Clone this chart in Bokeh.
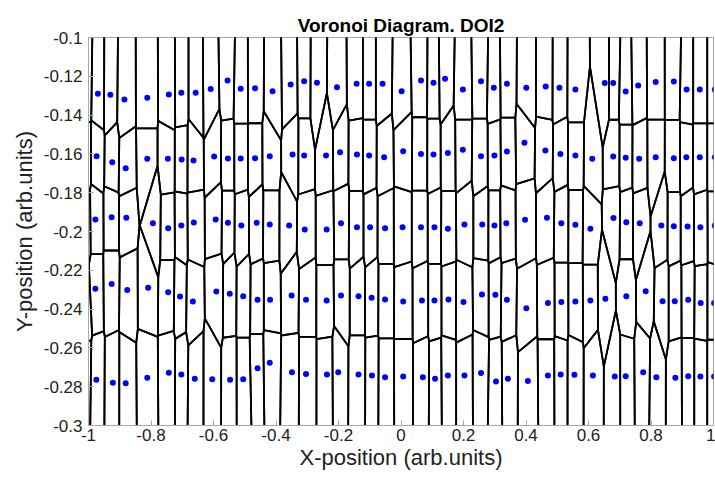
import numpy as np
from bokeh.plotting import figure
from bokeh.models import FixedTicker, CustomJSTickFormatter, Range1d
from bokeh.embed import file_html
from bokeh.resources import INLINE

# ---- data ----
row1_x = [-1.010, -0.970, -0.930, -0.885, -0.812, -0.743, -0.703, -0.657, -0.609, -0.555, -0.513,
          -0.467, -0.411, -0.353, -0.310, -0.269, -0.205, -0.142, -0.102, -0.059, 0.002,
          0.064, 0.104, 0.141, 0.198, 0.256, 0.297, 0.339, 0.401, 0.463, 0.507,
          0.558, 0.652, 0.679, 0.719, 0.759, 0.815, 0.873, 0.914, 0.956, 1.004]
row1_y = [-0.1259, -0.1290, -0.1295, -0.1320, -0.1311, -0.1294, -0.1285, -0.1285, -0.1266, -0.1222, -0.1264,
          -0.1262, -0.1277, -0.1242, -0.1225, -0.1233, -0.1256, -0.1239, -0.1239, -0.1239, -0.1277,
          -0.1222, -0.1233, -0.1213, -0.1268, -0.1225, -0.1259, -0.1239, -0.1259, -0.1253, -0.1259,
          -0.1268, -0.1235, -0.1235, -0.1278, -0.1247, -0.1230, -0.1227, -0.1268, -0.1268, -0.1268]

row2_x = [-1.010, -0.974, -0.924, -0.881, -0.812, -0.746, -0.702, -0.664, -0.598, -0.554, -0.513,
          -0.467, -0.420, -0.347, -0.310, -0.240, -0.195, -0.141, -0.102, -0.054, 0.007,
          0.064, 0.104, 0.150, 0.198, 0.256, 0.299, 0.339, 0.395, 0.462, 0.510,
          0.558, 0.612, 0.679, 0.719, 0.762, 0.815, 0.873, 0.913, 0.956, 1.004]
row2_y = [-0.1612, -0.1612, -0.1643, -0.1674, -0.1625, -0.1625, -0.1629, -0.1634, -0.1613, -0.1624, -0.1624,
          -0.1622, -0.1612, -0.1603, -0.1608, -0.1608, -0.1591, -0.1603, -0.1608, -0.1617, -0.1586,
          -0.1600, -0.1603, -0.1596, -0.1579, -0.1612, -0.1608, -0.1588, -0.1543, -0.1582, -0.1600,
          -0.1608, -0.1625, -0.1613, -0.1620, -0.1625, -0.1617, -0.1622, -0.1617, -0.1617, -0.1617]

row3_x = [-1.010, -0.978, -0.926, -0.879, -0.794, -0.745, -0.703, -0.663, -0.593, -0.554, -0.511,
          -0.462, -0.420, -0.358, -0.308, -0.238, -0.192, -0.141, -0.099, -0.051, 0.005,
          0.064, 0.107, 0.150, 0.203, 0.260, 0.299, 0.337, 0.397, 0.467, 0.513,
          0.558, 0.606, 0.680, 0.721, 0.764, 0.833, 0.873, 0.917, 0.958, 1.004]
row3_y = [-0.1957, -0.1938, -0.1926, -0.1929, -0.1957, -0.1983, -0.1969, -0.1954, -0.1938, -0.1955, -0.1969,
          -0.1955, -0.1964, -0.1969, -0.1990, -0.1990, -0.1957, -0.1978, -0.1978, -0.1983, -0.1978,
          -0.1978, -0.1978, -0.1986, -0.1964, -0.1964, -0.1969, -0.1957, -0.1940, -0.1929, -0.1957,
          -0.1965, -0.1986, -0.1931, -0.1952, -0.1957, -0.1969, -0.1973, -0.1974, -0.1978, -0.1969]

row4_x = [-1.010, -0.978, -0.926, -0.876, -0.809, -0.745, -0.707, -0.666, -0.591, -0.548, -0.505,
          -0.459, -0.419, -0.350, -0.304, -0.238, -0.192, -0.136, -0.094, -0.051, 0.007,
          0.067, 0.107, 0.152, 0.200, 0.259, 0.302, 0.339, 0.401, 0.470, 0.513,
          0.558, 0.606, 0.654, 0.721, 0.783, 0.837, 0.876, 0.919, 0.959, 1.002]
row4_y = [-0.2387, -0.2295, -0.2270, -0.2301, -0.2290, -0.2313, -0.2335, -0.2361, -0.2309, -0.2321, -0.2334,
          -0.2352, -0.2352, -0.2330, -0.2352, -0.2356, -0.2330, -0.2334, -0.2342, -0.2351, -0.2361,
          -0.2356, -0.2356, -0.2351, -0.2364, -0.2325, -0.2326, -0.2352, -0.2395, -0.2369, -0.2364,
          -0.2361, -0.2356, -0.2347, -0.2334, -0.2308, -0.2359, -0.2359, -0.2352, -0.2369, -0.2369]

row5_x = [-1.010, -0.975, -0.922, -0.881, -0.812, -0.743, -0.703, -0.660, -0.604, -0.547, -0.505,
          -0.459, -0.420, -0.349, -0.304, -0.237, -0.201, -0.136, -0.093, -0.051, 0.007,
          0.070, 0.109, 0.150, 0.203, 0.256, 0.304, 0.342, 0.406, 0.470, 0.511,
          0.555, 0.614, 0.684, 0.719, 0.775, 0.817, 0.878, 0.919, 0.958, 1.002]
row5_y = [-0.2737, -0.2764, -0.2780, -0.2782, -0.2754, -0.2728, -0.2737, -0.2759, -0.2761, -0.2764, -0.2761,
          -0.2705, -0.2677, -0.2725, -0.2734, -0.2737, -0.2725, -0.2737, -0.2742, -0.2751, -0.2747,
          -0.2751, -0.2759, -0.2742, -0.2742, -0.2730, -0.2773, -0.2759, -0.2771, -0.2742, -0.2737,
          -0.2739, -0.2742, -0.2747, -0.2746, -0.2725, -0.2751, -0.2754, -0.2746, -0.2747, -0.2747]

x_ticks = [-1, -0.8, -0.6, -0.4, -0.2, 0, 0.2, 0.4, 0.6, 0.8, 1]
x_labels = ["-1", "-0.8", "-0.6", "-0.4", "-0.2", "0", "0.2", "0.4", "0.6", "0.8", "1"]
y_ticks = [-0.3, -0.28, -0.26, -0.24, -0.22, -0.2, -0.18, -0.16, -0.14, -0.12, -0.1]
y_labels = ["-0.3", "-0.28", "-0.26", "-0.24", "-0.22", "-0.2", "-0.18", "-0.16", "-0.14", "-0.12", "-0.1"]

title_text = "Voronoi Diagram. DOI2"
x_title = "X-position (arb.units)"
y_title = "Y-position (arb.units)"

# ---- Voronoi cells by half-plane clipping ----
px = np.array(row1_x + row2_x + row3_x + row4_x + row5_x)
py = np.array(row1_y + row2_y + row3_y + row4_y + row5_y)


def clip(poly, a, b, c):
    out = []
    n = len(poly)
    for k in range(n):
        P = poly[k]
        Q = poly[(k + 1) % n]
        fp = a * P[0] + b * P[1] - c
        fq = a * Q[0] + b * Q[1] - c
        if fp <= 0:
            out.append(P)
        if fp * fq < 0:
            t = fp / (fp - fq)
            out.append((P[0] + t * (Q[0] - P[0]), P[1] + t * (Q[1] - P[1])))
    return out


box = [(-1.4, -0.6), (1.4, -0.6), (1.4, 0.2), (-1.4, 0.2)]
cell_xs, cell_ys = [], []
for i in range(len(px)):
    poly = list(box)
    for j in range(len(px)):
        if i == j:
            continue
        a = px[j] - px[i]
        b = py[j] - py[i]
        c = (px[j] ** 2 + py[j] ** 2 - px[i] ** 2 - py[i] ** 2) / 2.0
        poly = clip(poly, a, b, c)
        if not poly:
            break
    if poly:
        cell_xs.append([q[0] for q in poly] + [poly[0][0]])
        cell_ys.append([q[1] for q in poly] + [poly[0][1]])

# ---- figure ----
FONT = "Liberation Sans"
p = figure(width=715, height=478, output_backend="svg", toolbar_location=None,
           x_range=Range1d(-1, 1), y_range=Range1d(-0.3, -0.1),
           min_border_left=88, min_border_right=2, min_border_top=37, min_border_bottom=53)

p.multi_line(cell_xs, cell_ys, line_color="black", line_width=1.8)
p.scatter(px, py, size=6, color="#0000ff", line_color=None)

p.grid.visible = False
p.outline_line_color = "#a8a8a8"
p.background_fill_color = "white"
p.border_fill_color = "white"

p.title.text = title_text
p.title.align = "center"
p.title.text_font = FONT
p.title.text_font_size = "19px"
p.title.text_font_style = "bold"
p.title.text_color = "black"
p.title.text_line_height = 0.6
p.title.standoff = 4

p.xaxis.ticker = FixedTicker(ticks=x_ticks)
p.yaxis.ticker = FixedTicker(ticks=y_ticks)
p.xaxis.formatter = CustomJSTickFormatter(args=dict(t=x_ticks, l=x_labels), code="""
let b = 0; for (let i = 0; i < t.length; i++) { if (Math.abs(t[i] - tick) < Math.abs(t[b] - tick)) b = i; } return l[b];""")
p.yaxis.formatter = CustomJSTickFormatter(args=dict(t=y_ticks, l=y_labels), code="""
let b = 0; for (let i = 0; i < t.length; i++) { if (Math.abs(t[i] - tick) < Math.abs(t[b] - tick)) b = i; } return l[b];""")

for ax in (p.xaxis, p.yaxis):
    ax.axis_line_color = "#a8a8a8"
    ax.major_tick_line_color = "#a8a8a8"
    ax.major_tick_in = 5
    ax.major_tick_out = 0
    ax.minor_tick_line_color = None
    ax.major_label_text_font = FONT
    ax.major_label_text_font_size = "17px"
    ax.major_label_text_color = "#222222"
    ax.major_label_standoff = 6
    ax.axis_label_text_font = FONT
    ax.axis_label_text_font_size = "22px"
    ax.axis_label_text_font_style = "normal"
    ax.axis_label_text_color = "#222222"
    ax.axis_label_standoff = 4

p.xaxis.axis_label = x_title
p.yaxis.axis_label = y_title
p.xaxis.major_label_standoff = 3
p.xaxis.axis_label_standoff = 1

open("out.html", "w").write(file_html(p, INLINE))
